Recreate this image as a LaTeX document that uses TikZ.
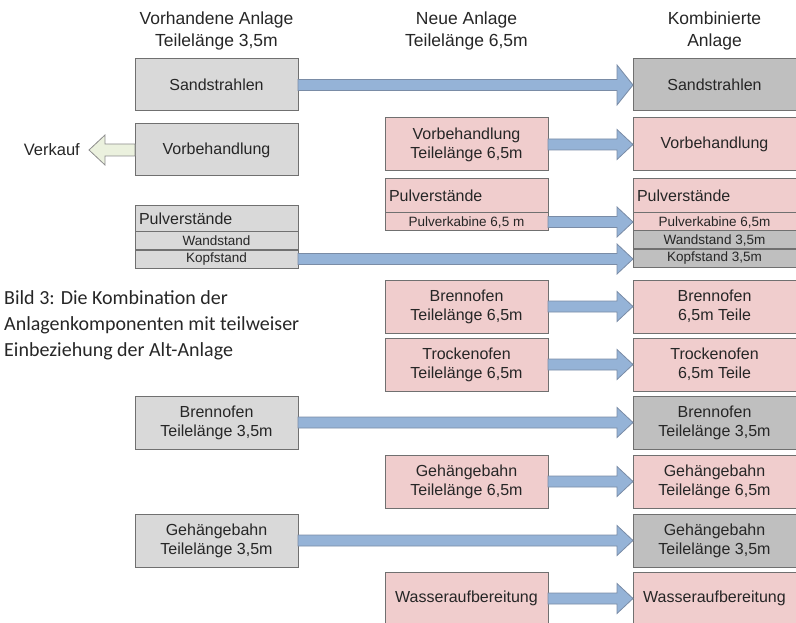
\documentclass[tikz,border=0pt]{standalone}
\usepackage{fontspec}
\setmainfont{Liberation Sans}
\newfontfamily\capfont{Carlito}
\usetikzlibrary{calc, positioning}

\definecolor{altgray}{HTML}{D9D9D9}
\definecolor{kombgray}{HTML}{BFBFBF}
\definecolor{neupink}{HTML}{F0CDCD}
\definecolor{boxline}{HTML}{707070}
\definecolor{flowblue}{HTML}{95B3D7}
\definecolor{flowline}{HTML}{7A8CA6}
\definecolor{sellgreen}{HTML}{EBF1DE}
\definecolor{txt}{HTML}{262626}

% block arrow from one box to the next
\newcommand{\flowarrow}[3][15pt]{%
  \draw[flow] let \p1=(#2.east), \p2=(#3.west) in
    (\x1,\y1+5.5pt) -- (\x2-16pt,\y1+5.5pt) -- (\x2-16pt,\y1+#1) -- (\x2,\y1)
    -- (\x2-16pt,\y1-#1) -- (\x2-16pt,\y1-5.5pt) -- (\x1,\y1-5.5pt) -- cycle;}

\begin{document}
\begin{tikzpicture}[
    x=1pt, y=-1pt,
    node distance=0pt,
    box/.style={draw=boxline, line width=1pt, outer sep=0pt, inner sep=2pt, minimum width=163pt, minimum height=53pt, align=center, text=txt, font=\fontsize{16}{19}\selectfont},
    alt/.style={box, fill=altgray},
    neu/.style={box, fill=neupink},
    komb/.style={box, fill=kombgray},
    head/.style={minimum height=34pt, align=left, inner xsep=4pt, text width=155pt},
    row/.style={minimum height=18pt, inner sep=1pt, font=\fontsize{13.5}{15}\selectfont},
    title/.style={align=center, text=txt, font=\fontsize{17.5}{22}\selectfont},
    flow/.style={draw=flowline, fill=flowblue, line width=0.8pt},
    sell/.style={draw=boxline!80, fill=sellgreen, line width=0.8pt}
]
\useasboundingbox (0,0) rectangle (796,623);

% column titles
\node[title] (tAlt) at (216.5,31) {Vorhandene Anlage\\Teilelänge 3,5m};
\node[title] (tNeu) at (466.5,31) {Neue Anlage\\Teilelänge 6,5m};
\node[title] (tKomb) at (714.5,31) {Kombinierte\\Anlage};

% existing plant
\node[alt, minimum height=52pt] (sandL) at (216.5,85) {Sandstrahlen};
\node[alt, minimum height=52pt] (vorbL) at (216.5,150) {Vorbehandlung};
\node[alt, head, minimum height=26pt] (pulvL) at (216.5,219) {Pulverstände};
\node[alt, row, below=of pulvL] (wandL) {Wandstand};
\node[alt, row, below=of wandL] (kopfL) {Kopfstand};
\node[alt] (brenL) at (216.5,422.5) {Brennofen\\Teilelänge 3,5m};
\node[alt] (gehL) at (216.5,540.5) {Gehängebahn\\Teilelänge 3,5m};

\node[text=txt, font=\fontsize{16.5}{19}\selectfont, anchor=east, inner sep=0pt] (verkauf) at (80,150) {Verkauf};

% new plant
\node[neu] (vorbM) at (466.5,144.5) {Vorbehandlung\\Teilelänge 6,5m};
\node[neu, head, below=8pt of vorbM] (pulvM) {Pulverstände};
\node[neu, row, below=of pulvM] (kabM) {Pulverkabine 6,5 m};
\node[neu, below=49pt of kabM] (brenM) {Brennofen\\Teilelänge 6,5m};
\node[neu, below=5pt of brenM] (trockM) {Trockenofen\\Teilelänge 6,5m};
\node[neu, below=64pt of trockM] (gehM) {Gehängebahn\\Teilelänge 6,5m};
\node[neu, below=64pt of gehM] (wasM) {Wasseraufbereitung};

% combined plant
\node[komb, minimum height=52pt, right=335pt of sandL] (sandR) {Sandstrahlen};
\node[neu, right=85pt of vorbM] (vorbR) {Vorbehandlung};
\node[neu, head, right=85pt of pulvM] (pulvR) {Pulverstände};
\node[neu, row, below=of pulvR] (kabR) {Pulverkabine 6,5m};
\node[komb, row, below=of kabR] (wandR) {Wandstand 3,5m};
\node[komb, row, below=of wandR] (kopfR) {Kopfstand 3,5m};
\node[neu, right=85pt of brenM] (brenR) {Brennofen\\6,5m Teile};
\node[neu, right=85pt of trockM] (trockR) {Trockenofen\\6,5m Teile};
\node[komb, right=335pt of brenL] (brenK) {Brennofen\\Teilelänge 3,5m};
\node[neu, right=85pt of gehM] (gehR) {Gehängebahn\\Teilelänge 6,5m};
\node[komb, right=335pt of gehL] (gehK) {Gehängebahn\\Teilelänge 3,5m};
\node[neu, right=85pt of wasM] (wasR) {Wasseraufbereitung};

% caption
\node[anchor=west, align=left, inner sep=0pt, text=txt, font=\capfont\fontsize{20}{26}\selectfont] (bild) at (4,325) {Bild 3: Die Kombination der\\Anlagenkomponenten mit teilweiser\\Einbeziehung der Alt-Anlage};

% arrows
\flowarrow[20pt]{sandL}{sandR}
\flowarrow{vorbM}{vorbR}
\flowarrow{kabM}{kabR}
\flowarrow{kopfL}{kopfR}
\flowarrow{brenM}{brenR}
\flowarrow{trockM}{trockR}
\flowarrow{brenL}{brenK}
\flowarrow{gehM}{gehR}
\flowarrow{gehL}{gehK}
\flowarrow{wasM}{wasR}

\draw[sell] let \p1=(vorbL.west), \p2=(verkauf.east) in
    (\x1,\y1+6pt) -- (\x2+25pt,\y1+6pt) -- (\x2+25pt,\y1+15pt) -- (\x2+9pt,\y1)
    -- (\x2+25pt,\y1-15pt) -- (\x2+25pt,\y1-6pt) -- (\x1,\y1-6pt) -- cycle;

\end{tikzpicture}
\end{document}
